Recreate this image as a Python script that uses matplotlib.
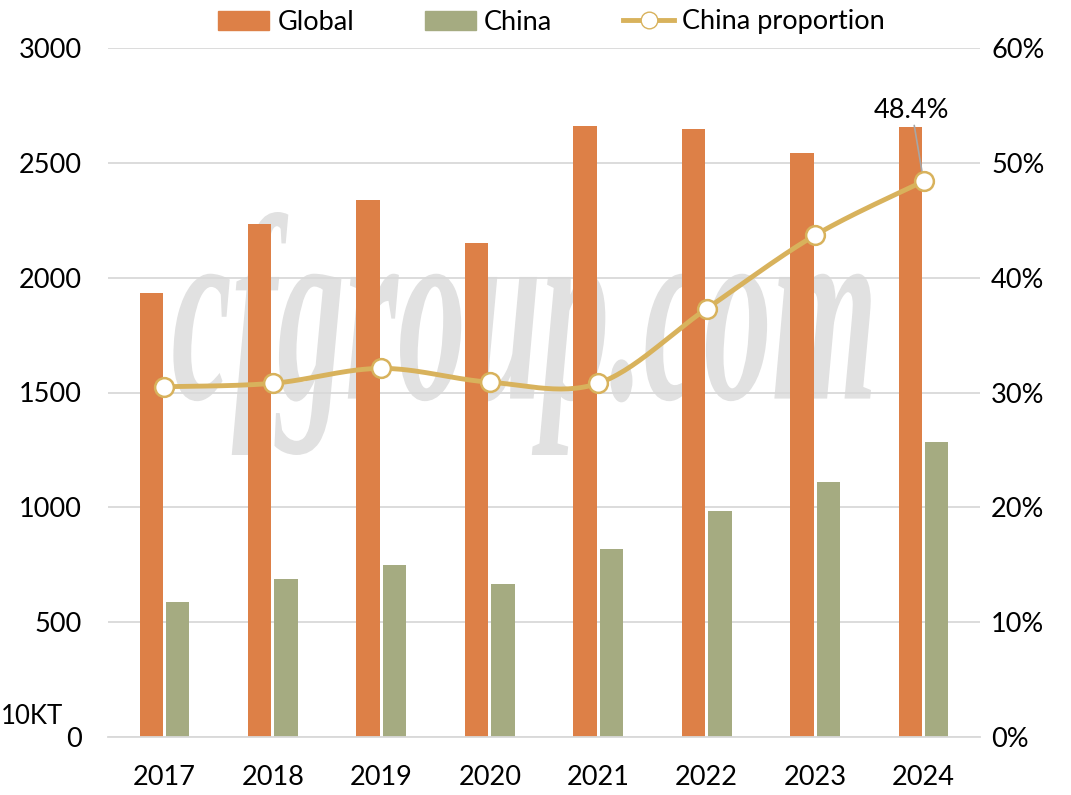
import numpy as np
import matplotlib.pyplot as plt
from matplotlib.textpath import TextPath
from matplotlib.patches import PathPatch, Patch
from matplotlib.lines import Line2D
from matplotlib.font_manager import FontProperties
from matplotlib.transforms import Affine2D

years = ['2017', '2018', '2019', '2020', '2021', '2022', '2023', '2024']
global_vals = [1932, 2233, 2338, 2151, 2660, 2647, 2543, 2656]
china_vals = [588, 688, 749, 666, 818, 984, 1110, 1284]
china_pct = [30.5, 30.8, 32.1, 30.9, 30.8, 37.3, 43.7, 48.4]

c_global = '#DD8047'
c_china = '#A5AB81'
c_line = '#D8B25C'

plt.rcParams['font.family'] = ['Lato', 'DejaVu Sans']
fs = 19.5

fig = plt.figure(figsize=(10.71, 7.95), dpi=100)
ax = fig.add_axes([108 / 1071, 58 / 795, 872 / 1071, 689 / 795])
ax2 = ax.twinx()

x = np.arange(len(years))
w = 0.215

# watermark
tp = TextPath((0, 0), 'cfgroup.com', prop=FontProperties(family='Liberation Serif', style='italic', weight='bold'), size=1)
bb = tp.get_extents()
x0, x1 = 0.075, 0.875
y0, y1 = (737 - 455) / 689, (737 - 212) / 689
tr = Affine2D().translate(-bb.x0, -bb.y0).scale((x1 - x0) / bb.width, (y1 - y0) / bb.height).translate(x0, y0)
wm = PathPatch(tr.transform_path(tp), transform=ax.transAxes, facecolor='#E1E1E1', edgecolor='none', zorder=0.5)
ax.add_patch(wm)

ax.bar(x - w / 2 - 0.014, global_vals, w, color=c_global, zorder=2, label='Global')
ax.bar(x + w / 2 + 0.014, china_vals, w, color=c_china, zorder=2, label='China')

# smooth curve through the points (Catmull-Rom)
pts = np.array(list(zip(x, china_pct)), dtype=float)
P = np.vstack([pts[0], pts, pts[-1]])
curve = []
for i in range(1, len(P) - 2):
    p0, p1, p2, p3 = P[i - 1], P[i], P[i + 1], P[i + 2]
    for t in np.linspace(0, 1, 30):
        c = 0.5 * ((2 * p1) + (-p0 + p2) * t + (2 * p0 - 5 * p1 + 4 * p2 - p3) * t ** 2
                   + (-p0 + 3 * p1 - 3 * p2 + p3) * t ** 3)
        curve.append(c)
curve = np.array(curve)
ax2.plot(curve[:, 0], curve[:, 1], color=c_line, lw=3.5, zorder=3)
ax2.plot(x, china_pct, 'o', ms=13.5, mfc='white', mec=c_line, mew=1.8, zorder=4)

ax2.annotate(f'{china_pct[-1]}%', xy=(x[-1], china_pct[-1]), xytext=(x[-1] - 0.11, 53.5),
             ha='center', va='bottom', fontsize=fs,
             arrowprops=dict(arrowstyle='-', color='#A6A6A6', lw=1.2, shrinkA=0, shrinkB=2))

ax.set_ylim(0, 3000)
ax2.set_ylim(0, 60)
ax.set_xlim(-0.52, 7.52)
ax.set_yticks(range(0, 3001, 500))
ax2.set_yticks(range(0, 61, 10))
ax2.set_yticklabels([f'{v}%' for v in range(0, 61, 10)])
ax.set_xticks(x)
ax.set_xticklabels(years)
ax.yaxis.grid(True, color='#D9D9D9', lw=1.3, zorder=0)
ax.set_axisbelow(True)
for a in (ax, ax2):
    for s in a.spines.values():
        s.set_visible(False)
    a.tick_params(length=0, labelsize=fs)
ax.spines['bottom'].set_visible(True)
ax.spines['bottom'].set_color('#D9D9D9')
ax.spines['bottom'].set_linewidth(1.3)
ax.tick_params(axis='y', pad=19)
ax2.tick_params(axis='y', pad=8)
ax.tick_params(axis='x', pad=20)

fig.text(63 / 1071, 1 - 716 / 795, '10KT', fontsize=fs - 1, va='center', ha='right')

handles = [Patch(color=c_global), Patch(color=c_china),
           Line2D([], [], color=c_line, lw=3.5, marker='o', ms=12, mfc='white', mec=c_line)]
fig.legend(handles, ['Global', 'China', 'China proportion'], loc='center', bbox_to_anchor=(0.515, 1 - 22 / 795),
           ncol=3, frameon=False, fontsize=fs, handlelength=1.9, handletextpad=0.3, columnspacing=2.6)

fig.savefig('out.png', dpi=100)
